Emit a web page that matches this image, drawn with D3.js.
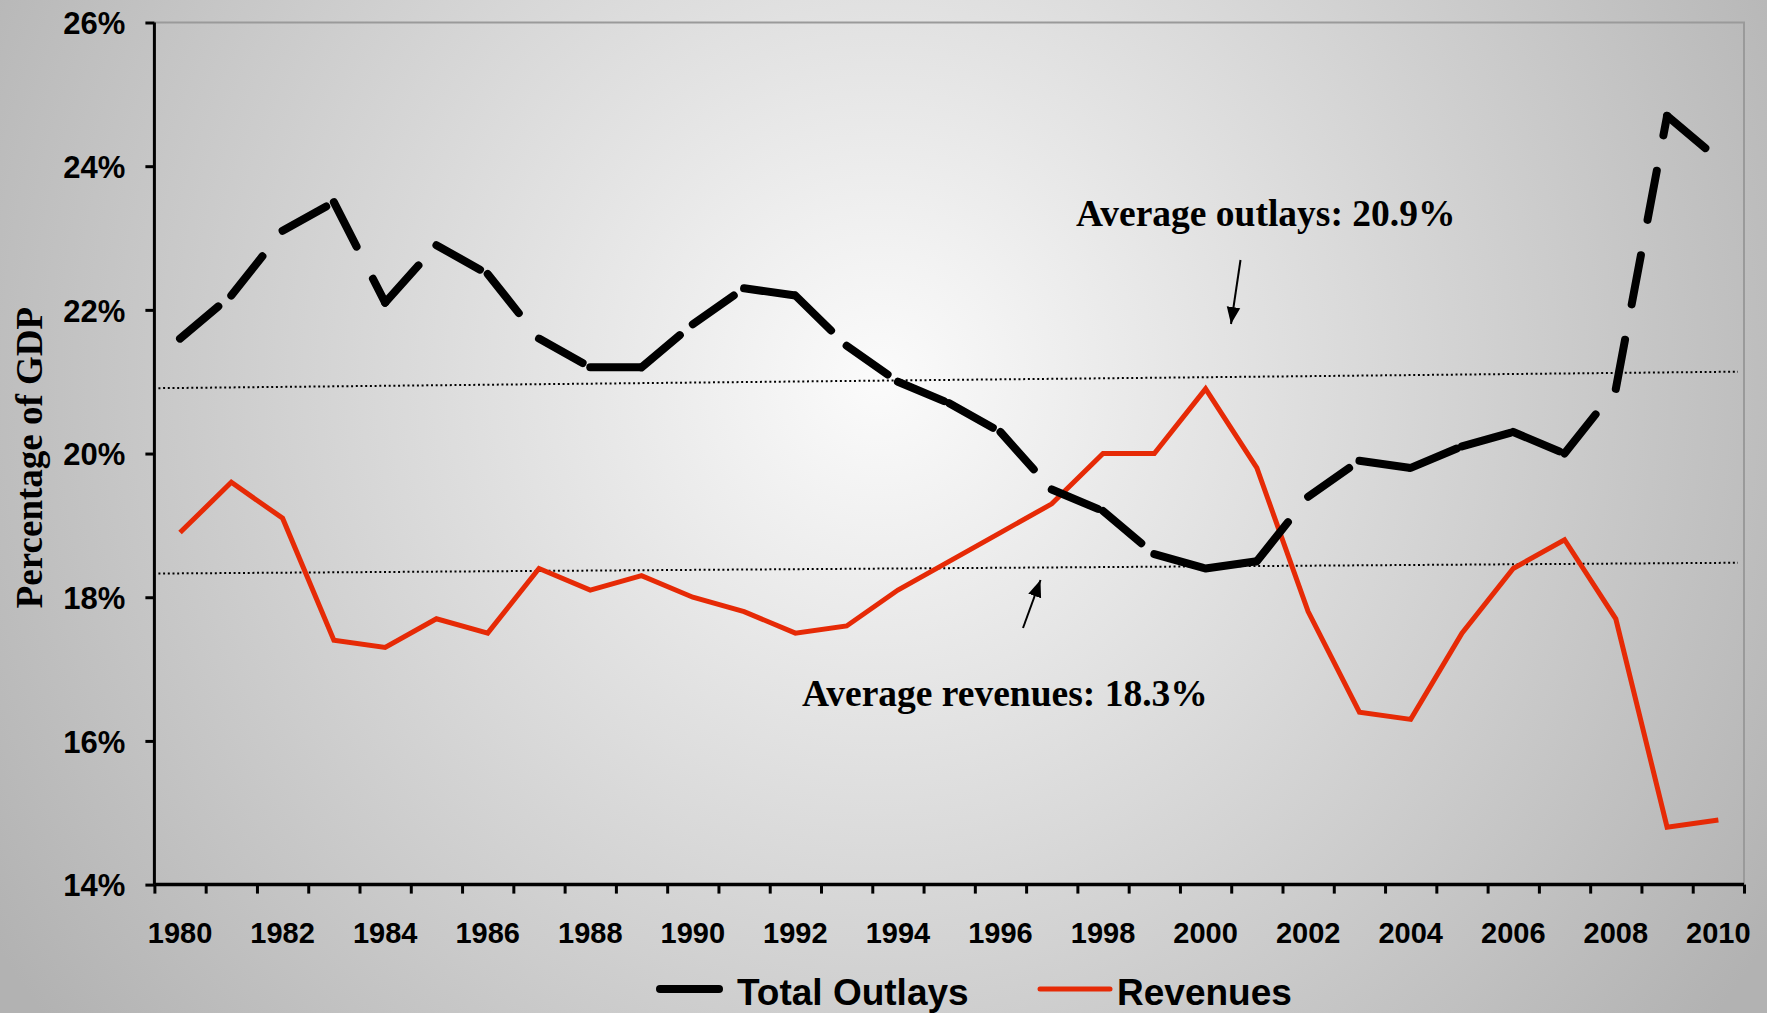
<!DOCTYPE html>
<html>
<head>
<meta charset="utf-8">
<script src="https://cdn.jsdelivr.net/npm/d3@7"></script>
<style>
  html, body { margin: 0; padding: 0; overflow: hidden; }
  .tick text { font-family: "Liberation Sans", Arial, sans-serif; font-weight: bold; fill: #000; }
  .serif { font-family: "Liberation Serif", "Times New Roman", serif; font-weight: bold; }
  .sans { font-family: "Liberation Sans", Arial, sans-serif; font-weight: bold; }
</style>
</head>
<body>
<div class="root"></div>
<script>
// chart data
var years = d3.range(1980, 2011);
var yearLabels = d3.range(1980, 2011, 2);
var yTicks = [14, 16, 18, 20, 22, 24, 26];
var outlays = [21.6, 22.2, 23.1, 23.5, 22.1, 22.9, 22.5, 21.6, 21.2, 21.2,
  21.8, 22.3, 22.2, 21.5, 21.0, 20.7, 20.3, 19.5, 19.2, 18.6,
  18.4, 18.5, 19.4, 19.9, 19.8, 20.1, 20.3, 20.0, 20.9, 24.7, 24.1];
var revenues = [18.9, 19.6, 19.1, 17.4, 17.3, 17.7, 17.5, 18.4, 18.1, 18.3,
  18.0, 17.8, 17.5, 17.6, 18.1, 18.5, 18.9, 19.3, 20.0, 20.0,
  20.9, 19.8, 17.8, 16.4, 16.3, 17.5, 18.4, 18.8, 17.7, 14.8, 14.9];
// average lines as drawn (slightly tilted in the original), value at left / right end
var avgOutlays = [20.91, 21.14];
var avgRevenues = [18.33, 18.48];
var seriesNames = ["Total Outlays", "Revenues"];

var width = 1767, height = 1013;
var plotL = 154.4, plotR = 1744, plotT = 22.5, plotB = 884.6;

var svg = d3.select(".root").append("svg")
  .attr("width", width)
  .attr("height", height);

var defs = svg.append("defs");
var grad = defs.append("radialGradient")
  .attr("id", "bg")
  .attr("gradientUnits", "userSpaceOnUse")
  .attr("cx", 880).attr("cy", 380).attr("r", 1050);
grad.append("stop").attr("offset", "0").attr("stop-color", "#fbfbfb");
grad.append("stop").attr("offset", "1").attr("stop-color", "#b2b2b2");

svg.append("rect")
  .attr("width", width)
  .attr("height", height)
  .attr("fill", "url(#bg)");

var x = d3.scaleBand().domain(years).range([plotL, plotR]).padding(0);
var xEdge = d3.scaleLinear().domain([0, years.length]).range([plotL, plotR]);
var y = d3.scaleLinear().domain([14, 26]).range([plotB, plotT]);

function cx(yr) { return x(yr) + x.bandwidth() / 2; }

// plot frame (top and right, gray)
svg.append("path")
  .attr("d", "M" + plotL + "," + plotT + "H" + plotR + "V" + plotB)
  .attr("fill", "none")
  .attr("stroke", "#9a9a9a")
  .attr("stroke-width", 2);

// average lines
[avgOutlays, avgRevenues].forEach(function (a) {
  svg.append("line")
    .attr("x1", plotL + 4)
    .attr("x2", plotR - 6)
    .attr("y1", y(a[0]))
    .attr("y2", y(a[1]))
    .attr("stroke", "#000")
    .attr("stroke-width", 2)
    .attr("stroke-dasharray", "2,2.7");
});

// y axis
var yAxis = svg.append("g")
  .attr("transform", "translate(" + plotL + ",0)")
  .call(d3.axisLeft(y).tickValues(yTicks).tickSize(9).tickPadding(20)
    .tickFormat(function (d) { return d + "%"; }));
yAxis.select(".domain").attr("stroke-width", 3).attr("d", "M0," + plotT + "V" + plotB);
yAxis.selectAll(".tick line").attr("stroke-width", 3);
yAxis.selectAll(".tick text").style("font-size", "31px").attr("dy", "0.36em");

// x axis: ticks on band edges, labels on every second year
var xTicks = svg.append("g")
  .attr("transform", "translate(0," + plotB + ")")
  .call(d3.axisBottom(xEdge).tickValues(d3.range(0, years.length + 1)).tickSize(9).tickFormat(""));
xTicks.select(".domain").attr("stroke-width", 3.5).attr("d", "M" + plotL + ",0H" + plotR);
xTicks.selectAll(".tick line").attr("stroke-width", 3);

var xLabels = svg.append("g")
  .attr("transform", "translate(0," + plotB + ")")
  .call(d3.axisBottom(x).tickValues(yearLabels).tickSize(0));
xLabels.select(".domain").remove();
xLabels.selectAll(".tick text").style("font-size", "29px").attr("y", 58).attr("dy", 0);

// revenues line
var line = d3.line()
  .x(function (d) { return cx(d.year); })
  .y(function (d) { return y(d.value); });

var revData = years.map(function (yr, i) { return { year: yr, value: revenues[i] }; });
var outData = years.map(function (yr, i) { return { year: yr, value: outlays[i] }; });

svg.append("path")
  .datum(revData)
  .attr("d", line)
  .attr("fill", "none")
  .attr("stroke", "#e62a06")
  .attr("stroke-width", 5)
  .attr("stroke-linejoin", "miter");

// outlays: dash pattern restarts at every point, as in the original
var segs = d3.pairs(outData);
svg.append("g").selectAll("path")
  .data(segs)
  .enter().append("path")
  .attr("d", function (d) { return line(d); })
  .attr("fill", "none")
  .attr("stroke", "#000")
  .attr("stroke-width", 8)
  .attr("stroke-linecap", "round")
  .attr("stroke-linejoin", "round")
  .attr("stroke-dasharray", "50,36");

// y axis title
svg.append("text")
  .attr("class", "serif")
  .attr("transform", "translate(42," + ((plotT + plotB) / 2 + 4) + ") rotate(-90)")
  .attr("text-anchor", "middle")
  .style("font-size", "37px")
  .text("Percentage of GDP");

// annotations
svg.append("text")
  .attr("class", "serif")
  .attr("x", 1076).attr("y", 226)
  .style("font-size", "37.5px")
  .text("Average outlays: 20.9%");
svg.append("text")
  .attr("class", "serif")
  .attr("x", 802).attr("y", 706)
  .style("font-size", "37.5px")
  .text("Average revenues: 18.3%");

defs.append("marker")
  .attr("id", "arrow")
  .attr("viewBox", "0 0 10 10")
  .attr("refX", 10).attr("refY", 5)
  .attr("markerWidth", 8.5).attr("markerHeight", 8.5)
  .attr("markerUnits", "strokeWidth")
  .attr("orient", "auto")
  .append("path")
  .attr("d", "M0,1L10,5L0,9Z")
  .attr("fill", "#000");

svg.append("line")
  .attr("x1", 1240.5).attr("y1", 260)
  .attr("x2", 1231).attr("y2", 324)
  .attr("stroke", "#000").attr("stroke-width", 2)
  .attr("marker-end", "url(#arrow)");
svg.append("line")
  .attr("x1", 1023).attr("y1", 628)
  .attr("x2", 1040.5).attr("y2", 580)
  .attr("stroke", "#000").attr("stroke-width", 2)
  .attr("marker-end", "url(#arrow)");

// legend
var legend = svg.append("g");
var legendItems = [
  { name: seriesNames[0], color: "#000", w: 8, x1: 660, x2: 719, tx: 737 },
  { name: seriesNames[1], color: "#e62a06", w: 5, x1: 1040, x2: 1110, tx: 1117 }
];
legendItems.forEach(function (d) {
  legend.append("line")
    .attr("x1", d.x1).attr("x2", d.x2)
    .attr("y1", 989).attr("y2", 989)
    .attr("stroke", d.color)
    .attr("stroke-width", d.w)
    .attr("stroke-linecap", "round");
  legend.append("text")
    .attr("class", "sans")
    .attr("x", d.tx).attr("y", 1005)
    .style("font-size", "37px")
    .text(d.name);
});
</script>
</body>
</html>
